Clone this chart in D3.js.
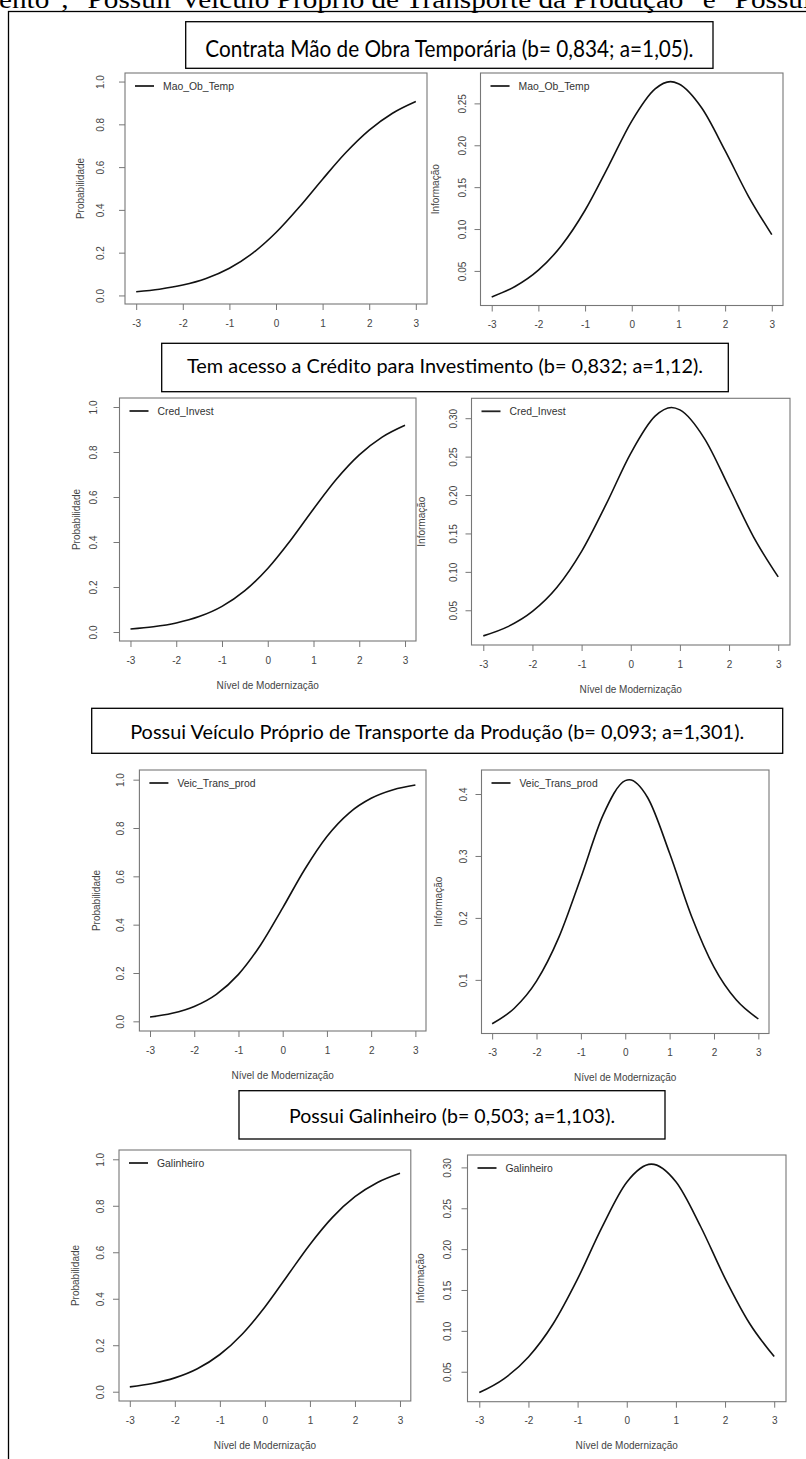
<!DOCTYPE html>
<html>
<head>
<meta charset="utf-8">
<script src="https://cdn.jsdelivr.net/npm/d3@7"></script>
<style>
body { margin: 0; background: #fff; }
svg { display: block; }
</style>
</head>
<body>
<script>
// nivel de modernizacao (theta) grid and axis ticks
const theta = [-3, -2.5, -2, -1.5, -1, -0.5, 0, 0.5, 1, 1.5, 2, 2.5, 3];
const xTicks = [-3, -2, -1, 0, 1, 2, 3];

const itemNames = ["Mao_Ob_Temp", "Cred_Invest", "Veic_Trans_prod", "Galinheiro"];
const itemTitles = [
    "Contrata Mão de Obra Temporária (b= 0,834; a=1,05).",
    "Tem acesso a Crédito para Investimento (b= 0,832; a=1,12).",
    "Possui Veículo Próprio de Transporte da Produção (b= 0,093; a=1,301).",
    "Possui Galinheiro (b= 0,503; a=1,103)."
];

// probability curves
const probMao = [0.0175, 0.0293, 0.0485, 0.0794, 0.1272, 0.1977, 0.2941, 0.4132, 0.5435, 0.6680, 0.7728, 0.8519, 0.9067];
const probCred = [0.0135, 0.0234, 0.0402, 0.0684, 0.1139, 0.1837, 0.2826, 0.4081, 0.5469, 0.6788, 0.7872, 0.8663, 0.9190];
const probVeic = [0.0176, 0.0331, 0.0616, 0.1118, 0.1943, 0.3161, 0.4698, 0.6294, 0.7649, 0.8618, 0.9228, 0.9582, 0.9777];
const probGal = [0.0206, 0.0352, 0.0595, 0.0989, 0.1601, 0.2486, 0.3647, 0.4992, 0.6337, 0.7502, 0.8391, 0.9005, 0.9401];

// information curves
const infoMao = [0.0190, 0.0314, 0.0509, 0.0806, 0.1224, 0.1749, 0.2289, 0.2673, 0.2735, 0.2445, 0.1936, 0.1391, 0.0933];
const infoCred = [0.0167, 0.0287, 0.0485, 0.0799, 0.1266, 0.1881, 0.2543, 0.3030, 0.3108, 0.2735, 0.2101, 0.1453, 0.0934];
const infoVeic = [0.0292, 0.0542, 0.0979, 0.1681, 0.2650, 0.3659, 0.4216, 0.3948, 0.3044, 0.2016, 0.1206, 0.0678, 0.0369];
const infoGal = [0.0245, 0.0413, 0.0681, 0.1084, 0.1636, 0.2273, 0.2819, 0.3041, 0.2824, 0.2280, 0.1643, 0.1090, 0.0685];

// top of each information curve
const peakTheta = [0.83, 0.83, 0.09, 0.50];
const peakInfo = [0.276, 0.314, 0.423, 0.304];

const probTicks = [0, 0.2, 0.4, 0.6, 0.8, 1.0];
const infoTicks = [
    [0.05, 0.10, 0.15, 0.20, 0.25],
    [0.05, 0.10, 0.15, 0.20, 0.25, 0.30],
    [0.1, 0.2, 0.3, 0.4],
    [0.05, 0.10, 0.15, 0.20, 0.25, 0.30]
];
const infoFormat = [".2f", ".2f", ".1f", ".2f"];

const probs = [probMao, probCred, probVeic, probGal];
const infos = [infoMao, infoCred, infoVeic, infoGal];

// layout of the pasted plots: box = [left, top, right, bottom]
const panels = [
    { item: 0, kind: "prob", box: [125, 73, 427, 304], ytl: 25, ytt: 45 },
    { item: 0, kind: "info", box: [480.5, 73, 783, 305.5], ytl: 18, ytt: 45 },
    { item: 1, kind: "prob", box: [119.5, 398, 416, 641], ytl: 26, ytt: 43.5 },
    { item: 1, kind: "info", box: [471.5, 398.3, 790, 645], ytl: 18, ytt: 50 },
    { item: 2, kind: "prob", box: [139.4, 770, 426, 1031], ytl: 19, ytt: 43 },
    { item: 2, kind: "info", box: [481.5, 770, 769, 1033.5], ytl: 18, ytt: 43.5 },
    { item: 3, kind: "prob", box: [119, 1150, 410.8, 1401], ytl: 19, ytt: 44 },
    { item: 3, kind: "info", box: [467.5, 1155, 786, 1401.7], ytl: 20, ytt: 47.5 }
];

// title boxes [left, top, right, bottom], text baseline and size
const titleBoxes = [
    { box: [185.7, 21.7, 713, 68.3], base: 56.5, size: 23, len: 488 },
    { box: [161.7, 343.3, 728.3, 391.7], base: 373.3, size: 20, len: 516 },
    { box: [91.7, 708.3, 782.7, 753.3], base: 739, size: 20, len: 614 },
    { box: [239, 1090.7, 665, 1139], base: 1122.5, size: 20, len: 326 }
];

const W = 806, H = 1459;
const svg = d3.select("body").append("svg")
    .attr("width", W)
    .attr("height", H)
    .style("font-family", "'Liberation Sans', Arial, sans-serif");

svg.append("rect").attr("width", W).attr("height", H).attr("fill", "#fff");

// line of document text cut by the top of the picture
svg.append("text")
    .attr("x", -1)
    .attr("y", 7.5)
    .attr("font-family", "'Liberation Serif', 'Times New Roman', serif")
    .attr("font-size", 26)
    .attr("textLength", 812)
    .attr("lengthAdjust", "spacingAndGlyphs")
    .attr("fill", "#000")
    .text("ento\", \"Possuir Veículo Próprio de Transporte da Produção\" e \"Possui");

// frame of the figure
svg.append("rect")
    .attr("x", 8.5).attr("y", 11.5)
    .attr("width", 900).attr("height", 1600)
    .attr("fill", "none")
    .attr("stroke", "#000")
    .attr("stroke-width", 1.3);

let line = d3.line().curve(d3.curveMonotoneX);

panels.forEach(p => {
    const [x0, y0, x1, y1] = p.box;
    let pts, ydom, ticks, fmt;
    if (p.kind === "prob") {
        pts = theta.map((t, i) => [t, probs[p.item][i]]);
        ydom = [0, 1];
        ticks = probTicks;
        fmt = d3.format(".1f");
    } else {
        const pk = peakTheta[p.item];
        pts = theta.map((t, i) => [t, infos[p.item][i]])
            .filter(d => Math.abs(d[0] - pk) > 0.05);
        pts.push([pk, peakInfo[p.item]]);
        pts.sort((a, b) => a[0] - b[0]);
        ydom = d3.extent(pts, d => d[1]);
        ticks = infoTicks[p.item];
        fmt = d3.format(infoFormat[p.item]);
    }
    // R style 4% padding round the data range
    const xpad = 6 * 0.04, ypad = (ydom[1] - ydom[0]) * 0.04;
    const x = d3.scaleLinear().domain([-3 - xpad, 3 + xpad]).range([x0, x1]);
    const y = d3.scaleLinear().domain([ydom[0] - ypad, ydom[1] + ypad]).range([y1, y0]);

    const g = svg.append("g");

    g.append("rect")
        .attr("x", x0).attr("y", y0)
        .attr("width", x1 - x0).attr("height", y1 - y0)
        .attr("fill", "none")
        .attr("stroke", "#777")
        .attr("stroke-width", 1.1);

    const xa = g.append("g")
        .attr("transform", `translate(0,${y1})`)
        .call(d3.axisBottom(x).tickValues(xTicks).tickSize(6).tickFormat(d => String(d)));
    xa.select(".domain").remove();
    xa.selectAll("line").attr("stroke", "#777");
    xa.selectAll("text")
        .attr("y", 19).attr("dy", "0.35em")
        .attr("fill", "#444")
        .attr("font-size", 10)
        .attr("font-family", "'Liberation Sans', Arial, sans-serif");

    const ya = g.append("g")
        .attr("transform", `translate(${x0},0)`)
        .call(d3.axisLeft(y).tickValues(ticks).tickSize(6).tickFormat(fmt));
    ya.select(".domain").remove();
    ya.selectAll("line").attr("stroke", "#777");
    ya.selectAll("text")
        .attr("x", 0).attr("y", -p.ytl).attr("dy", "0.35em")
        .attr("transform", "rotate(-90)")
        .attr("text-anchor", "middle")
        .attr("fill", "#444")
        .attr("font-size", 10)
        .attr("font-family", "'Liberation Sans', Arial, sans-serif");

    // axis titles
    g.append("text")
        .attr("x", (x0 + x1) / 2).attr("y", y1 + 44).attr("dy", "0.35em")
        .attr("text-anchor", "middle")
        .attr("font-size", 10)
        .attr("fill", "#444")
        .text("Nível de Modernização");
    g.append("text")
        .attr("transform", `translate(${x0 - p.ytt},${(y0 + y1) / 2}) rotate(-90)`)
        .attr("dy", "0.35em")
        .attr("text-anchor", "middle")
        .attr("font-size", 10)
        .attr("fill", "#444")
        .text(p.kind === "prob" ? "Probabilidade" : "Informação");

    // curve
    g.append("path")
        .datum(pts.map(d => [x(d[0]), y(d[1])]))
        .attr("d", line)
        .attr("fill", "none")
        .attr("stroke", "#111")
        .attr("stroke-width", 1.6);

    // legend, top left, no box
    g.append("line")
        .attr("x1", x0 + 10).attr("x2", x0 + 29)
        .attr("y1", y0 + 13).attr("y2", y0 + 13)
        .attr("stroke", "#222")
        .attr("stroke-width", 1.8);
    g.append("text")
        .attr("x", x0 + 38).attr("y", y0 + 13).attr("dy", "0.35em")
        .attr("font-size", 10.4)
        .attr("fill", "#333")
        .text(itemNames[p.item]);
});

// titles go on top, white boxes hide part of the pasted plots
titleBoxes.forEach((t, i) => {
    const [l, tp, r, b] = t.box;
    svg.append("rect")
        .attr("x", l).attr("y", tp)
        .attr("width", r - l).attr("height", b - tp)
        .attr("fill", "#fff")
        .attr("stroke", "#000")
        .attr("stroke-width", 1.3);
    svg.append("text")
        .attr("x", (l + r) / 2).attr("y", t.base)
        .attr("text-anchor", "middle")
        .attr("font-family", "Lato, 'Open Sans', sans-serif")
        .attr("font-size", t.size)
        .attr("textLength", t.len)
        .attr("lengthAdjust", "spacingAndGlyphs")
        .attr("fill", "#000")
        .text(itemTitles[i]);
});
</script>
</body>
</html>
